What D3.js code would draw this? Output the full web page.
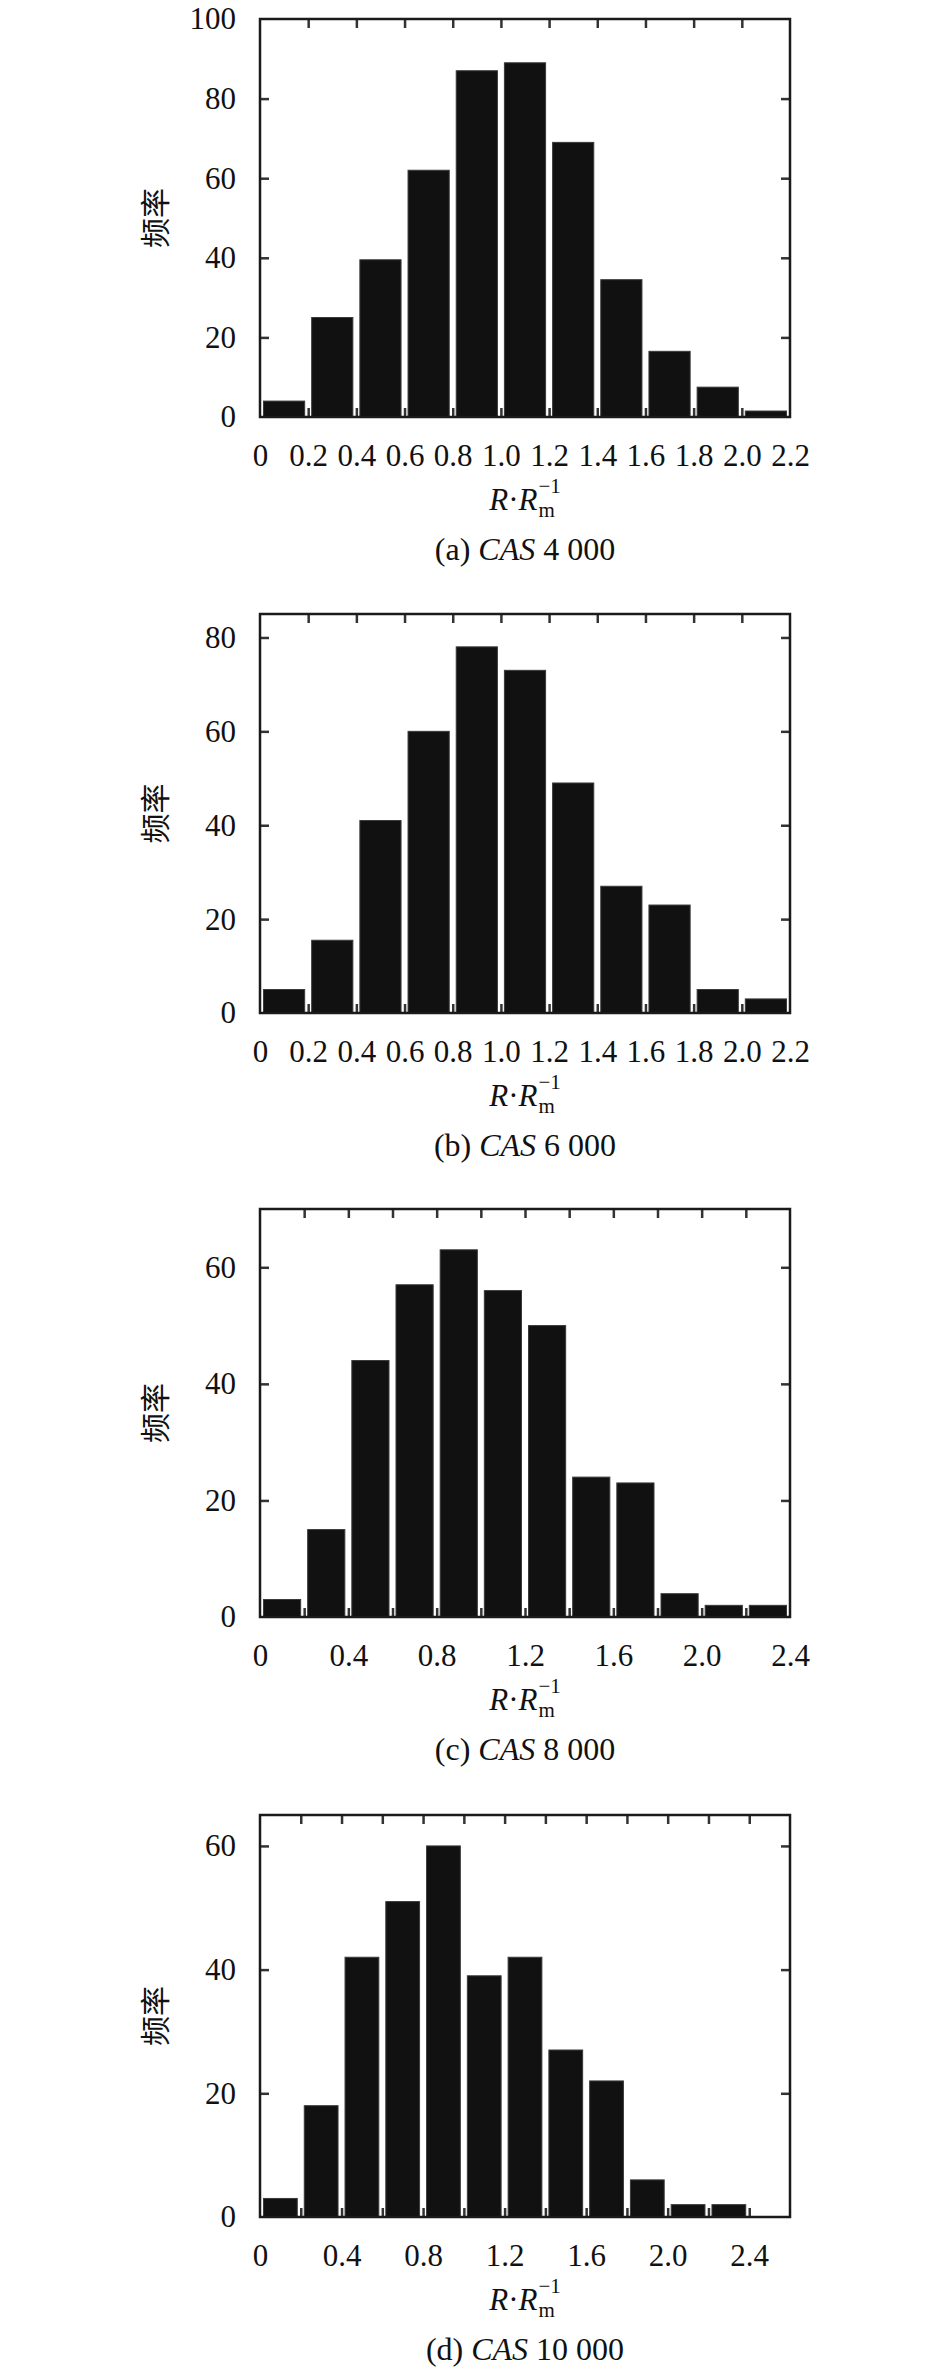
<!DOCTYPE html>
<html>
<head>
<meta charset="utf-8">
<script src="https://cdn.jsdelivr.net/npm/d3@7"></script>
<style>
  html, body { margin: 0; padding: 0; background: #fff; }
  svg { display: block; }
  .tick text { font-family: 'Liberation Serif', 'Times New Roman', serif; font-size: 31px; fill: #111; }
</style>
</head>
<body>
<script>
// ---------------- DATA ----------------
const binWidth = 0.2;
const countsA = [4, 25, 39.5, 62, 87, 89, 69, 34.5, 16.5, 7.5, 1.5];
const countsB = [5, 15.5, 41, 60, 78, 73, 49, 27, 23, 5, 3];
const countsC = [3, 15, 44, 57, 63, 56, 50, 24, 23, 4, 2, 2];
const countsD = [3, 18, 42, 51, 60, 39, 42, 27, 22, 6, 2, 2];

const xMaxes = [2.2, 2.2, 2.4, 2.6];
const yMaxes = [100, 85, 70, 65];

const yTicksA = [0, 20, 40, 60, 80, 100];
const yTicksB = [0, 20, 40, 60, 80];
const yTicksC = [0, 20, 40, 60];
const yTicksD = [0, 20, 40, 60];

const xLabelsA = [0, 0.2, 0.4, 0.6, 0.8, 1.0, 1.2, 1.4, 1.6, 1.8, 2.0, 2.2];
const xLabelsB = [0, 0.2, 0.4, 0.6, 0.8, 1.0, 1.2, 1.4, 1.6, 1.8, 2.0, 2.2];
const xLabelsC = [0, 0.4, 0.8, 1.2, 1.6, 2.0, 2.4];
const xLabelsD = [0, 0.4, 0.8, 1.2, 1.6, 2.0, 2.4];

const minorTicksA = [0.2, 0.4, 0.6, 0.8, 1.0, 1.2, 1.4, 1.6, 1.8, 2.0];
const minorTicksB = [0.2, 0.4, 0.6, 0.8, 1.0, 1.2, 1.4, 1.6, 1.8, 2.0];
const minorTicksC = [0.2, 0.4, 0.6, 0.8, 1.0, 1.2, 1.4, 1.6, 1.8, 2.0, 2.2];
const minorTicksD = [0.2, 0.4, 0.6, 0.8, 1.0, 1.2, 1.4, 1.6, 1.8, 2.0, 2.2, 2.4];

const captionLetters = ["(a) ", "(b) ", "(c) ", "(d) "];
const captionNumbers = [" 4 000", " 6 000", " 8 000", " 10 000"];
const yTitle = "频率";

// ---------------- LAYOUT ----------------
const W = 945, H = 2374;
const left = 260, right = 790;
const tops = [19, 614, 1209, 1815];
const bottoms = [417, 1013, 1617, 2217];

const counts = [countsA, countsB, countsC, countsD];
const yTicks = [yTicksA, yTicksB, yTicksC, yTicksD];
const xLabels = [xLabelsA, xLabelsB, xLabelsC, xLabelsD];
const minorTicks = [minorTicksA, minorTicksB, minorTicksC, minorTicksD];

const serif = "'Liberation Serif', 'Times New Roman', serif";
const fmt = d => d === 0 ? "0" : d.toFixed(1);

const svg = d3.select("body").append("svg")
  .attr("width", W).attr("height", H)
  .attr("viewBox", `0 0 ${W} ${H}`);

svg.append("rect").attr("width", W).attr("height", H).attr("fill", "#fff");

counts.forEach((data, p) => {
  const top = tops[p], bottom = bottoms[p];
  const x = d3.scaleLinear().domain([0, xMaxes[p]]).range([left, right]);
  const y = d3.scaleLinear().domain([0, yMaxes[p]]).range([bottom, top]);
  const g = svg.append("g");

  // bars
  const inset = 3.5;
  g.selectAll("rect.bar").data(data).join("rect")
    .attr("class", "bar")
    .attr("x", (d, i) => x(i * binWidth) + inset)
    .attr("width", (d, i) => x((i + 1) * binWidth) - x(i * binWidth) - 2 * inset)
    .attr("y", d => y(d))
    .attr("height", d => y(0) - y(d))
    .attr("fill", "#111")
    .attr("stroke", "#3a3a3a")
    .attr("stroke-width", 1);

  // left axis (labels + inward ticks)
  const ga = g.append("g").attr("transform", `translate(${left},0)`)
    .call(d3.axisLeft(y).tickValues(yTicks[p]).tickSizeInner(-9).tickSizeOuter(0).tickPadding(24));
  // right axis ticks
  const gr = g.append("g").attr("transform", `translate(${right},0)`)
    .call(d3.axisRight(y).tickValues(yTicks[p]).tickSizeInner(-9).tickSizeOuter(0).tickFormat(""));
  // bottom labels
  const gb = g.append("g").attr("transform", `translate(0,${bottom})`)
    .call(d3.axisBottom(x).tickValues(xLabels[p]).tickFormat(fmt).tickSizeInner(0).tickSizeOuter(0).tickPadding(27));
  // bottom inward ticks
  const gbm = g.append("g").attr("transform", `translate(0,${bottom})`)
    .call(d3.axisBottom(x).tickValues(minorTicks[p]).tickFormat("").tickSizeInner(-9).tickSizeOuter(0));
  // top inward ticks
  const gt = g.append("g").attr("transform", `translate(0,${top})`)
    .call(d3.axisTop(x).tickValues(minorTicks[p]).tickFormat("").tickSizeInner(-9).tickSizeOuter(0));

  [ga, gr, gb, gbm, gt].forEach(a => {
    a.select(".domain").remove();
    a.selectAll(".tick line").attr("stroke", "#333").attr("stroke-width", 2.5);
    a.selectAll(".tick text").attr("font-family", null).attr("font-size", null);
  });
  ga.selectAll(".tick").filter(d => d === 0 || d === yMaxes[p]).select("line").remove();
  gr.selectAll(".tick").filter(d => d === 0 || d === yMaxes[p]).select("line").remove();

  // frame
  g.append("rect")
    .attr("x", left).attr("y", top)
    .attr("width", right - left).attr("height", bottom - top)
    .attr("fill", "none").attr("stroke", "#1a1a1a").attr("stroke-width", 2.5);

  // y title
  const cy = (top + bottom) / 2;
  g.append("text")
    .attr("transform", `translate(166,${cy}) rotate(-90)`)
    .attr("text-anchor", "middle")
    .attr("font-family", "'Noto Sans CJK SC', sans-serif")
    .attr("font-size", 30)
    .attr("fill", "#111")
    .text(yTitle);

  // x title  R·R_m^-1
  const cx = (left + right) / 2;
  const xt = g.append("g");
  const main = xt.append("text")
    .attr("y", bottom + 93)
    .attr("font-family", serif).attr("font-size", 31).attr("fill", "#111");
  main.append("tspan").attr("font-style", "italic").text("R");
  main.append("tspan").text("·");
  main.append("tspan").attr("font-style", "italic").text("R");
  const mw = main.node().getComputedTextLength();
  const sub = xt.append("text").attr("x", mw + 1).attr("y", bottom + 100)
    .attr("font-family", serif).attr("font-size", 21).attr("fill", "#111").text("m");
  const sup = xt.append("text").attr("x", mw + 1).attr("y", bottom + 76)
    .attr("font-family", serif).attr("font-size", 21).attr("fill", "#111").text("−1");
  const tw = mw + 1 + Math.max(sub.node().getComputedTextLength(), sup.node().getComputedTextLength());
  xt.attr("transform", `translate(${cx - tw / 2},0)`);

  // caption
  const cap = g.append("text")
    .attr("x", cx).attr("y", bottom + 143)
    .attr("text-anchor", "middle")
    .attr("font-family", serif).attr("font-size", 32).attr("fill", "#111");
  cap.append("tspan").text(captionLetters[p]);
  cap.append("tspan").attr("font-style", "italic").text("CAS");
  cap.append("tspan").text(captionNumbers[p]);
});
</script>
</body>
</html>
